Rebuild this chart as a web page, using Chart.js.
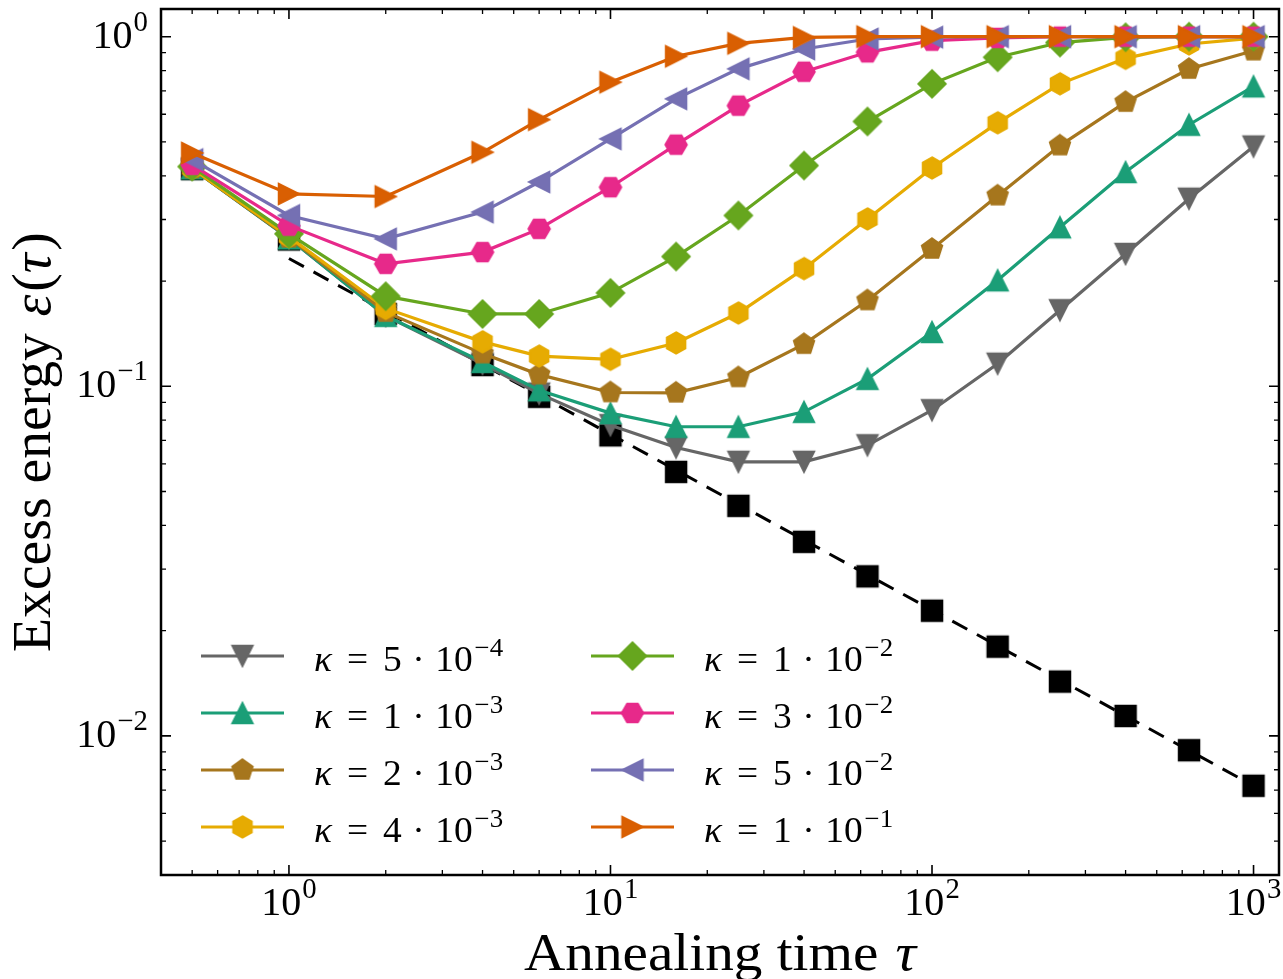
<!DOCTYPE html>
<html>
<head>
    <title>Excess energy vs annealing time</title>
    <script src="https://cdn.jsdelivr.net/npm/chart.js"></script>
    <style>
        body { margin: 0; background: #fff; }
    </style>
</head>
<body>
    <canvas id="myChart" width="1283" height="979"></canvas>
    <script>
        // annealing times and excess energies
        const tau = [0.5, 1, 2, 4, 6, 10, 16, 25, 40, 63, 100, 160, 250, 400, 630, 1000];

        // reference run without noise (black squares) and its power-law fit
        const epsRef = [0.418, 0.263, 0.161, 0.115, 0.0933, 0.0724, 0.0569, 0.0455, 0.0359, 0.0286, 0.0228, 0.0180, 0.0143, 0.0114, 0.0091, 0.0072];
        const fitTau = [1, 1000];
        const fitEps = [0.232, 0.0072];

        // noise strengths kappa = mantissa * 10^exponent
        const kappaMantissa = [5, 1, 2, 4, 1, 3, 5, 1];
        const kappaExponent = [-4, -3, -3, -3, -2, -2, -2, -1];

        const eps5e4 = [0.42, 0.265, 0.159, 0.116, 0.0953, 0.0774, 0.0668, 0.0608, 0.0608, 0.0678, 0.0854, 0.116, 0.165, 0.239, 0.344, 0.485];
        const eps1e3 = [0.42, 0.265, 0.159, 0.1174, 0.0974, 0.0838, 0.0766, 0.0766, 0.0845, 0.105, 0.143, 0.201, 0.285, 0.410, 0.560, 0.721];
        const eps2e3 = [0.42, 0.266, 0.163, 0.124, 0.108, 0.096, 0.0958, 0.106, 0.132, 0.176, 0.247, 0.351, 0.488, 0.650, 0.808, 0.912];
        const eps4e3 = [0.42, 0.268, 0.167, 0.134, 0.122, 0.1194, 0.133, 0.162, 0.217, 0.301, 0.421, 0.567, 0.733, 0.867, 0.953, 0.99];
        const eps1e2 = [0.425, 0.273, 0.181, 0.161, 0.161, 0.185, 0.235, 0.308, 0.428, 0.572, 0.733, 0.873, 0.962, 0.996, 1.0, 1.0];
        const eps3e2 = [0.43, 0.288, 0.224, 0.242, 0.282, 0.371, 0.491, 0.635, 0.794, 0.902, 0.974, 0.992, 1.0, 1.0, 1.0, 1.0];
        const eps5e2 = [0.445, 0.308, 0.264, 0.315, 0.384, 0.510, 0.664, 0.809, 0.922, 0.985, 0.997, 1.0, 1.0, 1.0, 1.0, 1.0];
        const eps1e1 = [0.465, 0.355, 0.349, 0.467, 0.579, 0.741, 0.879, 0.957, 0.995, 1.0, 1.0, 1.0, 1.0, 1.0, 1.0, 1.0];

        // decade tick labels
        const xTickExponents = [0, 1, 2, 3];
        const yTickExponents = [-2, -1, 0];

        const SERIF = '"Liberation Serif", "DejaVu Serif", serif';

        // filled marker glyphs, used both on the lines and in the legend
        function makeMarker(shape, color) {
            const size = 40;
            const c = document.createElement('canvas');
            c.width = size;
            c.height = size;
            const g = c.getContext('2d');
            g.translate(size / 2, size / 2);
            const r = 10.5;
            let pts;
            if (shape === 'square') pts = [[-10.5, -10.5], [10.5, -10.5], [10.5, 10.5], [-10.5, 10.5]];
            else if (shape === 'diamond') pts = [[0, -14], [14, 0], [0, 14], [-14, 0]];
            else if (shape === 'triUp') pts = [[0, -r], [r, r], [-r, r]];
            else if (shape === 'triDown') pts = [[0, r], [r, -r], [-r, -r]];
            else if (shape === 'triLeft') pts = [[-r, 0], [r, -r], [r, r]];
            else if (shape === 'triRight') pts = [[r, 0], [-r, -r], [-r, r]];
            else {
                const n = shape === 'pentagon' ? 5 : 6;
                const start = shape === 'hexFlat' ? 0 : -Math.PI / 2;
                pts = [];
                for (let i = 0; i < n; i++) {
                    const a = start + i * 2 * Math.PI / n;
                    pts.push([11 * Math.cos(a), 11 * Math.sin(a)]);
                }
            }
            g.beginPath();
            pts.forEach((p, i) => i ? g.lineTo(p[0], p[1]) : g.moveTo(p[0], p[1]));
            g.closePath();
            g.fillStyle = color;
            g.strokeStyle = color;
            g.lineWidth = 1.5;
            g.lineJoin = 'miter';
            g.fill();
            g.stroke();
            return c;
        }

        const series = [
            { values: eps5e4, color: '#666666', marker: 'triDown' },
            { values: eps1e3, color: '#1b9e77', marker: 'triUp' },
            { values: eps2e3, color: '#a6761d', marker: 'pentagon' },
            { values: eps4e3, color: '#e6ab02', marker: 'hexPointy' },
            { values: eps1e2, color: '#66a61e', marker: 'diamond' },
            { values: eps3e2, color: '#e7298a', marker: 'hexFlat' },
            { values: eps5e2, color: '#7570b3', marker: 'triLeft' },
            { values: eps1e1, color: '#d95f02', marker: 'triRight' }
        ];
        series.forEach(s => { s.image = makeMarker(s.marker, s.color); });

        const toPoints = (xs, ys) => xs.map((x, i) => ({ x: x, y: ys[i] }));

        const datasets = [
            {
                data: toPoints(tau, epsRef),
                showLine: false,
                pointStyle: makeMarker('square', '#000000'),
                pointRadius: 10,
                order: 10
            },
            {
                data: toPoints(fitTau, fitEps),
                borderColor: '#000000',
                borderWidth: 3,
                borderDash: [17, 11],
                pointRadius: 0,
                order: 9
            }
        ];
        series.forEach((s, i) => {
            datasets.push({
                data: toPoints(tau, s.values),
                borderColor: s.color,
                borderWidth: 3.2,
                pointStyle: s.image,
                pointRadius: 10,
                order: 8 - i
            });
        });

        // text with optional italic runs and superscripts
        function layoutRuns(ctx, runs, size) {
            let w = 0;
            const placed = runs.map(r => {
                const fs = r.sup ? size * 0.72 : size;
                const font = (r.it ? 'italic ' : '') + fs + 'px ' + SERIF;
                ctx.font = font;
                w += (r.pad || 0) * size;
                const item = { text: r.t, font: font, x: w, dy: r.sup ? -0.42 * size : 0 };
                w += ctx.measureText(r.t).width;
                return item;
            });
            return { placed: placed, width: w };
        }

        function drawRuns(ctx, runs, x, y, size, align, stretch) {
            const lay = layoutRuns(ctx, runs, size);
            const sx = stretch || 1;
            const total = lay.width * sx;
            const x0 = align === 'center' ? x - total / 2 : align === 'right' ? x - total : x;
            ctx.save();
            ctx.translate(x0, y);
            ctx.scale(sx, 1);
            ctx.textAlign = 'left';
            ctx.textBaseline = 'alphabetic';
            ctx.fillStyle = '#000';
            lay.placed.forEach(p => {
                ctx.font = p.font;
                ctx.fillText(p.text, p.x, p.dy);
            });
            ctx.restore();
        }

        const expText = e => (e < 0 ? '\u2212' : '') + Math.abs(e);
        const decadeRuns = e => [{ t: '10' }, { t: expText(e), sup: true, pad: 0.03 }];
        const kappaRuns = (m, e) => [
            { t: '\u03ba', it: true },
            { t: '=', pad: 0.4 },
            { t: String(m), pad: 0.4 },
            { t: '\u00b7', pad: 0.28 },
            { t: '10', pad: 0.28 },
            { t: expText(e), sup: true, pad: 0.05 }
        ];

        function minorValues(lo, hi) {
            const out = [];
            for (let d = Math.pow(10, Math.floor(Math.log10(lo))); d <= hi; d *= 10) {
                for (let m = 2; m <= 9; m++) {
                    const v = m * d;
                    if (v >= lo && v <= hi) out.push(v);
                }
            }
            return out;
        }

        // frame, inward ticks on all sides, labels, titles and legend
        const axesDecor = {
            id: 'axesDecor',
            afterDraw(chart) {
                const ctx = chart.ctx;
                const a = chart.chartArea;
                const xs = chart.scales.x;
                const ys = chart.scales.y;
                ctx.save();
                ctx.strokeStyle = '#000';

                const xMajor = xTickExponents.map(e => Math.pow(10, e));
                const yMajor = yTickExponents.map(e => Math.pow(10, e));
                const xMinor = minorValues(xs.min, xs.max);
                const yMinor = minorValues(ys.min, ys.max);

                const tickX = (vals, len, lw) => {
                    ctx.lineWidth = lw;
                    vals.forEach(v => {
                        const px = xs.getPixelForValue(v);
                        ctx.beginPath();
                        ctx.moveTo(px, a.bottom); ctx.lineTo(px, a.bottom - len);
                        ctx.moveTo(px, a.top); ctx.lineTo(px, a.top + len);
                        ctx.stroke();
                    });
                };
                const tickY = (vals, len, lw) => {
                    ctx.lineWidth = lw;
                    vals.forEach(v => {
                        const py = ys.getPixelForValue(v);
                        ctx.beginPath();
                        ctx.moveTo(a.left, py); ctx.lineTo(a.left + len, py);
                        ctx.moveTo(a.right, py); ctx.lineTo(a.right - len, py);
                        ctx.stroke();
                    });
                };
                tickX(xMinor, 5, 1.3);
                tickX(xMajor, 10, 1.6);
                tickY(yMinor, 5, 1.3);
                tickY(yMajor, 10, 1.6);

                ctx.lineWidth = 2.5;
                ctx.strokeRect(a.left, a.top, a.right - a.left, a.bottom - a.top);

                xTickExponents.forEach(e => {
                    drawRuns(ctx, decadeRuns(e), xs.getPixelForValue(Math.pow(10, e)), a.bottom + 40, 40, 'center');
                });
                yTickExponents.forEach(e => {
                    drawRuns(ctx, decadeRuns(e), a.left - 13, ys.getPixelForValue(Math.pow(10, e)) + 11, 40, 'right');
                });

                drawRuns(ctx, [{ t: 'Annealing time' }, { t: '\u03c4', it: true, pad: 0.3 }],
                    (a.left + a.right) / 2, a.bottom + 95, 53, 'center', 1.08);

                ctx.save();
                ctx.translate(50, (a.top + a.bottom) / 2);
                ctx.rotate(-Math.PI / 2);
                drawRuns(ctx, [
                    { t: 'Excess energy' },
                    { t: '\u03b5', it: true, pad: 0.3 },
                    { t: '(', pad: 0.05 },
                    { t: '\u03c4', it: true },
                    { t: ')', pad: 0.05 }
                ], 0, 0, 54, 'center', 1.03);
                ctx.restore();

                // legend: two columns of four entries in the lower left
                series.forEach((s, i) => {
                    const col = Math.floor(i / 4);
                    const row = i % 4;
                    const lx = a.left + 40 + col * 390;
                    const ly = a.top + 647 + row * 57;
                    ctx.strokeStyle = s.color;
                    ctx.lineWidth = 3.2;
                    ctx.beginPath();
                    ctx.moveTo(lx, ly);
                    ctx.lineTo(lx + 83, ly);
                    ctx.stroke();
                    ctx.drawImage(s.image, lx + 41.5 - s.image.width / 2, ly - s.image.height / 2);
                    drawRuns(ctx, kappaRuns(kappaMantissa[i], kappaExponent[i]), lx + 113, ly + 15, 36, 'left', 1.04);
                });
                ctx.restore();
            }
        };

        const ctx = document.getElementById('myChart').getContext('2d');
        new Chart(ctx, {
            type: 'line',
            data: { datasets: datasets },
            options: {
                responsive: false,
                devicePixelRatio: 1,
                animation: false,
                events: [],
                layout: { autoPadding: false, padding: { left: 161, top: 9, right: 4, bottom: 104 } },
                elements: { line: { tension: 0 } },
                plugins: { legend: { display: false }, tooltip: { enabled: false } },
                scales: {
                    x: { type: 'logarithmic', min: 0.4, max: 1200, bounds: 'data', display: false },
                    y: { type: 'logarithmic', min: 0.004, max: 1.2, bounds: 'data', display: false }
                }
            },
            plugins: [axesDecor]
        });
    </script>
</body>
</html>
